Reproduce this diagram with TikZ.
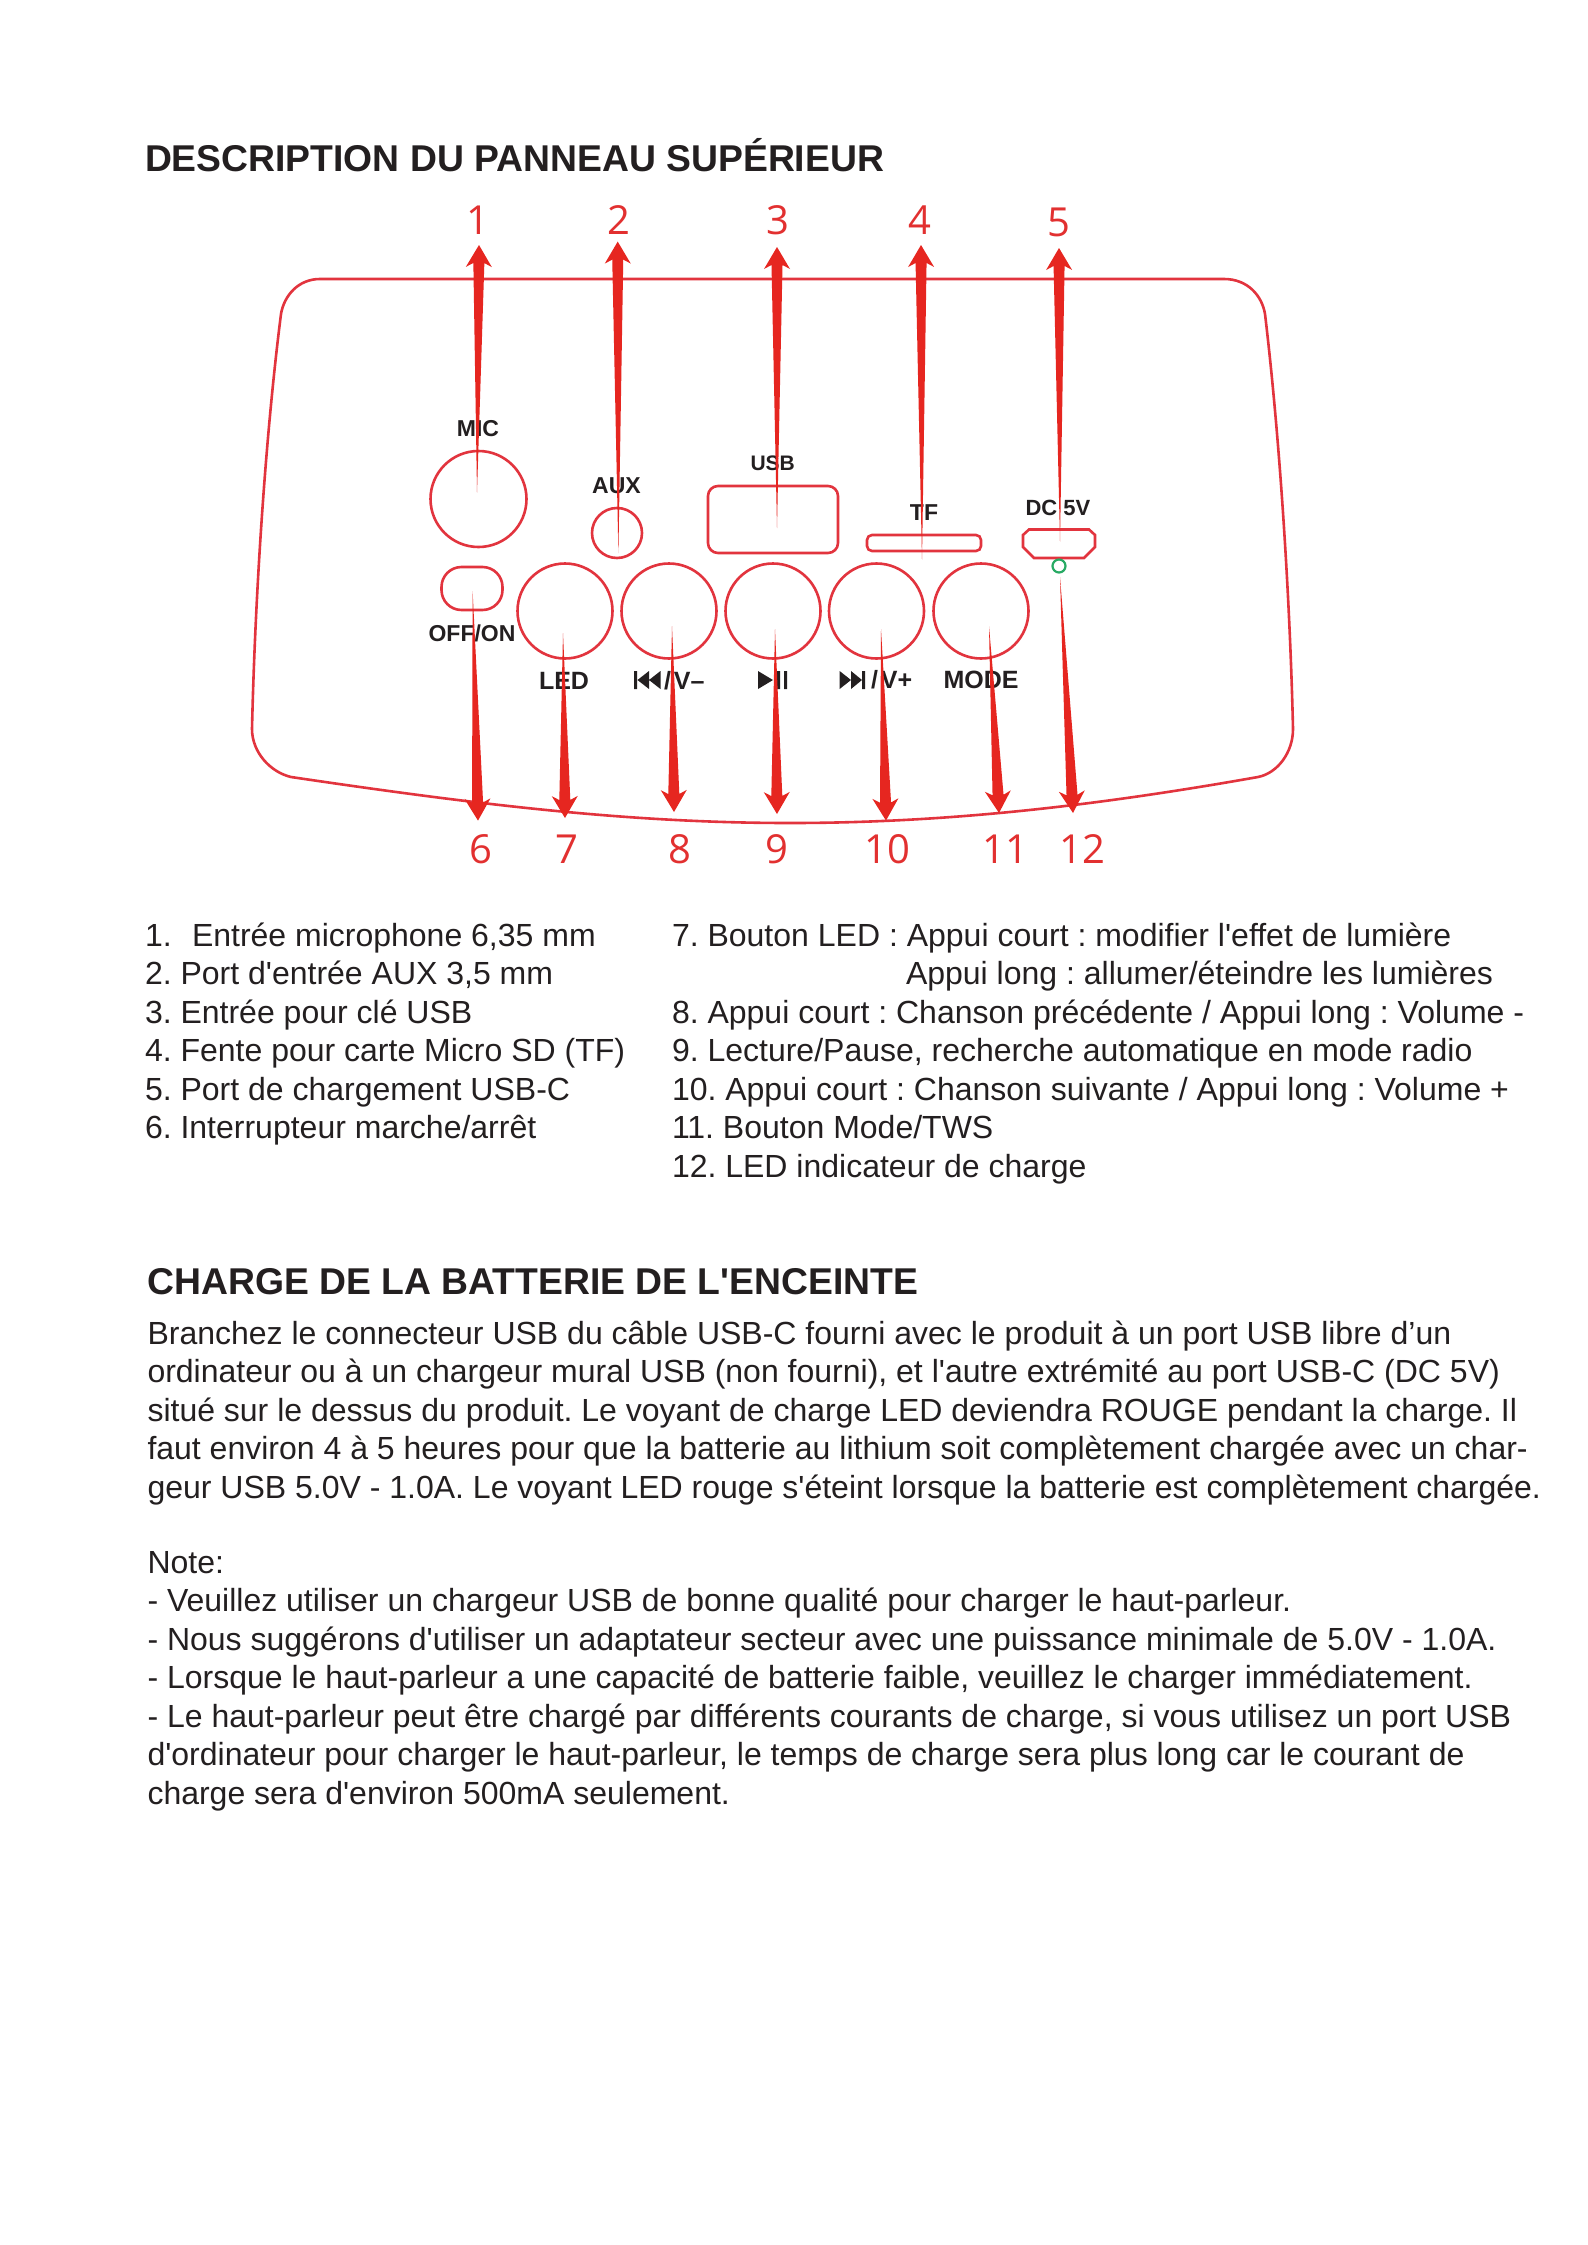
\documentclass[tikz,border=0pt]{standalone}
\usepackage{fontspec}
\usetikzlibrary{calc}
\newfontfamily\ar{Liberation Sans}
\newfontfamily\os{Open Sans}
\frenchspacing
\definecolor{outl}{RGB}{226,52,62}
\definecolor{arr}{RGB}{230,38,32}
\definecolor{numc}{RGB}{226,48,48}
\definecolor{ink}{RGB}{35,31,32}
\definecolor{led}{RGB}{40,170,100}
\tikzset{
 txt/.style={anchor=base west,inner sep=0pt,outer sep=0pt,text=ink,font=\ar\frenchspacing\fontsize{32}{36}\selectfont},
 head/.style={anchor=base west,inner sep=0pt,outer sep=0pt,text=ink,font=\ar\bfseries\fontsize{37.3}{40}\selectfont},
 lab/.style={inner sep=0pt,outer sep=0pt,text=ink,font=\ar\bfseries\fontsize{23}{26}\selectfont},
 labb/.style={lab,font=\ar\bfseries\fontsize{25}{28}\selectfont},
 num/.style={inner sep=0pt,outer sep=0pt,text=numc,font=\os\fontsize{40}{44}\selectfont},
 part/.style={draw=outl,line width=2.6pt,inner sep=0pt,outer sep=0pt},
}
\newcommand{\taper}[2]{%
 \path ($(#2)!22pt!(#1)$) coordinate (hb) ($(#2)!18pt!(#1)$) coordinate (hn);
 \fill[arr] (#1) -- ($(hn)!5.5pt!90:(#2)$) -- ($(hb)!13pt!90:(#2)$) -- (#2) -- ($(hb)!13pt!-90:(#2)$) -- ($(hn)!5.5pt!-90:(#2)$) -- cycle;
}
\begin{document}
\begin{tikzpicture}[x=1pt,y=-1pt]
\useasboundingbox (0,0) rectangle (1587,2245);
\fill[white] (0,0) rectangle (1587,2245);
% housing
\draw[outl,line width=2.6pt] (320,279) -- (1224,279)
  .. controls (1248,279) and (1262,296) .. (1265,314)
  .. controls (1280,440) and (1290,600) .. (1293,729)
  .. controls (1293,752) and (1278,773) .. (1258,777)
  .. controls (1100,805) and (950,823) .. (790,823)
  .. controls (630,823) and (480,805) .. (291,777)
  .. controls (270,772) and (252,752) .. (252,729)
  .. controls (255,600) and (265,440) .. (281,314)
  .. controls (284,296) and (298,279) .. (320,279) -- cycle;
% parts
\node[part,circle,minimum size=96pt] (mic) at (478.5,499) {};
\node[part,circle,minimum size=50pt] (aux) at (617,533) {};
\node[part,rectangle,rounded corners=10pt,minimum width=130pt,minimum height=67pt] (usb) at (773,519.5) {};
\node[part,rectangle,rounded corners=20pt,minimum width=61pt,minimum height=43pt] (sw) at (472,588.5) {};
\node[part,circle,minimum size=95pt] (ledb) at (565,611) {};
\node[part,circle,minimum size=95pt] (prev) at (669,611) {};
\node[part,circle,minimum size=95pt] (play) at (773,611) {};
\node[part,circle,minimum size=95pt] (next) at (876.5,611) {};
\node[part,circle,minimum size=95pt] (mode) at (981,611) {};
\node[part,rectangle,rounded corners=5pt,minimum width=114pt,minimum height=16pt] (tf) at (924,543) {};
\draw[outl,line width=2.6pt] (1029,529.5) -- (1089,529.5) -- (1095,535) -- (1095,547) -- (1084,558) -- (1034,558) -- (1023,547) -- (1023,535) -- cycle;
\node[draw=led,line width=2.2pt,circle,minimum size=13pt,inner sep=0pt] (ind) at (1059,566) {};
% labels on panel
\node[lab] (lmic) at (478,429) {MIC};
\node[lab] (laux) at (616.5,486) {AUX};
\node[lab,font=\ar\bfseries\fontsize{21}{24}\selectfont] (lusb) at (772.7,463.5) {USB};
\node[lab] (ltf) at (924,512.6) {TF};
\node[lab,font=\ar\bfseries\fontsize{22}{24}\selectfont] (ldc) at (1058,508) {DC 5V};
\node[lab] (lsw) at (472,633) {OFF/ON};
\node[labb] (lled) at (564,681) {LED};
\node[labb,anchor=west] (lprev) at (664,681) {/\kern3pt V–};
\fill[ink] (634,671) rectangle (637,689) (637.5,680) -- (649,671) -- (649,689) -- cycle (649,680) -- (660.5,671) -- (660.5,689) -- cycle;
\fill[ink] (758,671) -- (773,680) -- (758,689) -- cycle (777,671) rectangle (780,689) (784,671) rectangle (787,689);
\fill[ink] (839.6,671) -- (851,680) -- (839.6,689) -- cycle (851,671) -- (862,680) -- (851,689) -- cycle (862,671) rectangle (865,689);
\node[labb,anchor=west] (lnext) at (871,680) {/\kern3pt V+};
\node[labb] (lmode) at (981,680) {MODE};
% numbers
\node[num] (n1) at (478,220) {1};
\node[num] (n2) at (618.5,220) {2};
\node[num] (n3) at (778,220) {3};
\node[num] (n4) at (919.5,220) {4};
\node[num] (n5) at (1059,222) {5};
\node[num] (n6) at (480.5,849) {6};
\node[num] (n7) at (567,849) {7};
\node[num] (n8) at (679.5,849) {8};
\node[num] (n9) at (777,849) {9};
\node[num] (n10) at (887,849) {10};
\node[num] (n11) at (1005,849) {11};
\node[num] (n12) at (1082,849) {12};
% arrows
\coordinate (t1) at (477,492.5); \coordinate (h1) at (479,245);
\coordinate (t2) at (618.4,553); \coordinate (h2) at (617.7,241.6);
\coordinate (t3) at (777,528); \coordinate (h3) at (777,247);
\coordinate (t4) at (922,559.5); \coordinate (h4) at (921,245);
\coordinate (t5) at (1060,541.6); \coordinate (h5) at (1059,248);
\coordinate (t6) at (472.6,591); \coordinate (h6) at (478,820.6);
\coordinate (t7) at (563,633); \coordinate (h7) at (565,818);
\coordinate (t8) at (672,626); \coordinate (h8) at (674,812);
\coordinate (t9) at (775,629); \coordinate (h9) at (777,814);
\coordinate (t10) at (881,629); \coordinate (h10) at (886,820.6);
\coordinate (t11) at (989,626.4); \coordinate (h11) at (999,813);
\coordinate (t12) at (1060,577); \coordinate (h12) at (1073,813);
\taper{t1}{h1}\taper{t2}{h2}\taper{t3}{h3}\taper{t4}{h4}\taper{t5}{h5}\taper{t6}{h6}
\taper{t7}{h7}\taper{t8}{h8}\taper{t9}{h9}\taper{t10}{h10}\taper{t11}{h11}\taper{t12}{h12}
% text
\node[head] (h1t) at (145,171.5) {DESCRIPTION DU PANNEAU SUPÉRIEUR};
\node[txt] (a1) at (145,946) {1.};
\node[txt] (a1b) at (192,946) {Entrée microphone 6,35 mm};
\node[txt] (a2) at (145,984.5) {2. Port d'entrée AUX 3,5 mm};
\node[txt] (a3) at (145,1023) {3. Entrée pour clé USB};
\node[txt] (a4) at (145,1061.5) {4. Fente pour carte Micro SD (TF)};
\node[txt] (a5) at (145,1100) {5. Port de chargement USB-C};
\node[txt] (a6) at (145,1138.5) {6. Interrupteur marche/arrêt};
\node[txt] (b7) at (672,946) {7. Bouton LED : Appui court : modifier l'effet de lumière};
\node[txt] (b7b) at (906,984.5) {Appui long : allumer/éteindre les lumières};
\node[txt] (b8) at (672,1023) {8. Appui court : Chanson précédente / Appui long : Volume -};
\node[txt] (b9) at (672,1061.5) {9. Lecture/Pause, recherche automatique en mode radio};
\node[txt] (b10) at (672,1100) {10. Appui court : Chanson suivante / Appui long : Volume +};
\node[txt] (b11) at (672,1138.5) {11. Bouton Mode/TWS};
\node[txt] (b12) at (672,1177) {12. LED indicateur de charge};
\node[head] (h2t) at (147.5,1294) {CHARGE DE LA BATTERIE DE L'ENCEINTE};
\node[txt] (p1) at (147.5,1344) {Branchez le connecteur USB du câble USB-C fourni avec le produit à un port USB libre d’un};
\node[txt] (p2) at (147.5,1382.5) {ordinateur ou à un chargeur mural USB (non fourni), et l'autre extrémité au port USB-C (DC 5V)};
\node[txt] (p3) at (147.5,1421) {situé sur le dessus du produit. Le voyant de charge LED deviendra ROUGE pendant la charge. Il};
\node[txt] (p4) at (147.5,1459.5) {faut environ 4 à 5 heures pour que la batterie au lithium soit complètement chargée avec un char-};
\node[txt] (p5) at (147.5,1498) {geur USB 5.0V - 1.0A. Le voyant LED rouge s'éteint lorsque la batterie est complètement chargée.};
\node[txt] (q0) at (147.5,1573) {Note:};
\node[txt] (q1) at (147.5,1611.5) {- Veuillez utiliser un chargeur USB de bonne qualité pour charger le haut-parleur.};
\node[txt] (q2) at (147.5,1650) {- Nous suggérons d'utiliser un adaptateur secteur avec une puissance minimale de 5.0V - 1.0A.};
\node[txt] (q3) at (147.5,1688.5) {- Lorsque le haut-parleur a une capacité de batterie faible, veuillez le charger immédiatement.};
\node[txt] (q4) at (147.5,1727) {- Le haut-parleur peut être chargé par différents courants de charge, si vous utilisez un port USB};
\node[txt] (q5) at (147.5,1765.5) {d'ordinateur pour charger le haut-parleur, le temps de charge sera plus long car le courant de};
\node[txt] (q6) at (147.5,1804) {charge sera d'environ 500mA seulement.};
\end{tikzpicture}
\end{document}
